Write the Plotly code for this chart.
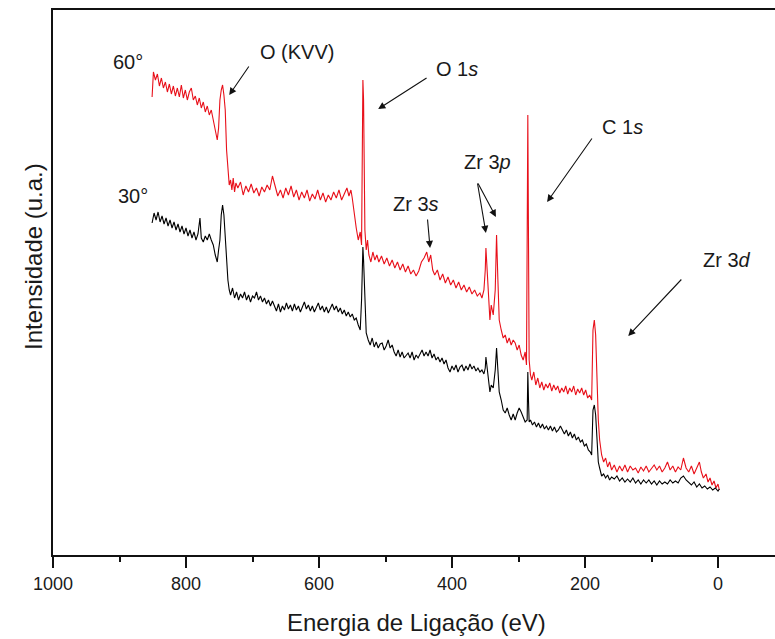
import plotly.graph_objects as go

# ---- 60 degree spectrum (red) ----
energy_60 = [851, 849, 846, 843, 840, 837, 834, 831, 828, 825, 822, 819, 816, 813, 810, 807, 804, 801, 798, 795,
             792, 789, 786, 783, 780, 777, 774, 771, 768, 765, 762, 759, 756, 753, 751, 749, 747, 745, 743, 741,
             739, 737, 735, 733, 731, 729, 727, 725, 722, 718, 714, 710, 706, 702, 698, 694, 690, 686, 682, 678,
             674, 670, 666, 662, 658, 654, 650, 646, 642, 638, 634, 630, 626, 622, 618, 614, 610, 606, 602, 598,
             594, 590, 586, 582, 578, 574, 570, 566, 562, 558, 555, 552, 550, 547, 544, 541, 538, 536, 534, 533,
             532, 531, 529, 527, 525, 522, 519, 516, 513, 510, 506, 502, 498, 494, 490, 486, 482, 478, 474, 470,
             466, 462, 458, 454, 450, 446, 442, 438, 435, 432, 429, 426, 422, 418, 414, 410, 406, 402, 398, 394,
             390, 386, 382, 378, 374, 370, 366, 362, 358, 355, 352, 350, 349, 347, 345, 343, 341, 338, 335, 333,
             331, 329, 326, 323, 320, 317, 314, 311, 308, 305, 302, 299, 296, 293, 290, 288, 286, 285, 284, 282,
             280, 277, 274, 271, 268, 265, 262, 259, 256, 253, 250, 247, 244, 241, 238, 235, 232, 229, 226, 223,
             220, 217, 214, 211, 208, 205, 202, 199, 196, 193, 190, 188, 186, 184, 182, 180, 178, 175, 172, 169,
             166, 163, 160, 156, 152, 148, 144, 140, 136, 132, 128, 124, 120, 116, 112, 108, 104, 100, 96, 92,
             88, 84, 80, 76, 72, 68, 64, 60, 56, 52, 48, 44, 40, 36, 32, 28, 25, 22, 18, 15,
             12, 9, 6, 3, 0, -2]
intensity_60 = [458, 483, 475, 481, 469, 477, 467, 473, 463, 471, 461, 469, 459, 467, 458, 470, 457, 465, 455, 463,
                467, 455, 459, 450, 457, 447, 453, 443, 449, 440, 445, 435, 425, 415, 427, 455, 465, 470, 460, 445,
                405, 385, 370, 375, 365, 377, 363, 372, 367, 373, 360, 369, 363, 371, 362, 367, 359, 368, 363, 370,
                365, 379, 370, 359, 365, 357, 367, 360, 369, 358, 365, 355, 363, 357, 365, 354, 361, 356, 365, 355,
                362, 353, 360, 355, 363, 357, 365, 355, 361, 367, 359, 365, 357, 340, 327, 315, 323, 310, 475, 455,
                405, 325, 305, 315, 300, 293, 303, 295, 300, 293, 299, 291, 297, 289, 295, 287, 293, 285, 291, 283,
                289, 281, 285, 279, 284, 293, 297, 303, 293, 300, 285, 280, 285, 275, 281, 272, 278, 270, 275, 267,
                273, 265, 270, 263, 268, 261, 265, 259, 262, 257, 265, 285, 307, 285, 255, 235, 250, 240, 265, 320,
                275, 235, 225, 217, 220, 212, 217, 210, 215, 212, 205, 210, 200, 195, 203, 190, 440, 355, 195, 180,
                175, 183, 170, 177, 167, 173, 165, 171, 167, 172, 164, 170, 165, 169, 162, 167, 163, 169, 161, 167,
                163, 169, 160, 166, 162, 167, 160, 165, 157, 160, 155, 225, 235, 220, 175, 135, 115, 100, 93, 97,
                88, 93, 85, 90, 83, 89, 84, 90, 83, 89, 85, 87, 82, 88, 84, 89, 83, 87, 90, 85,
                89, 83, 87, 93, 85, 89, 83, 88, 85, 97, 87, 83, 89, 81, 87, 93, 83, 77, 81, 73,
                77, 70, 74, 67, 71, 65]

# ---- 30 degree spectrum (black) ----
energy_30 = [851, 848, 845, 842, 839, 836, 833, 830, 827, 824, 821, 818, 815, 812, 809, 806, 803, 800, 797, 794,
             791, 788, 785, 782, 779, 777, 774, 771, 768, 765, 762, 759, 756, 753, 751, 749, 747, 745, 743, 741,
             739, 737, 735, 733, 730, 727, 724, 721, 718, 715, 712, 709, 706, 703, 700, 697, 694, 691, 688, 685,
             682, 679, 676, 673, 670, 667, 664, 661, 658, 655, 652, 649, 646, 643, 640, 637, 634, 631, 628, 625,
             622, 619, 616, 613, 610, 607, 604, 601, 598, 595, 592, 589, 586, 583, 580, 577, 574, 571, 568, 565,
             562, 559, 556, 553, 550, 547, 544, 541, 538, 536, 534, 533, 531, 529, 526, 523, 520, 517, 514, 511,
             508, 505, 502, 499, 496, 493, 490, 487, 484, 481, 478, 475, 472, 469, 466, 463, 460, 457, 454, 451,
             448, 445, 442, 439, 436, 433, 430, 427, 424, 421, 418, 415, 412, 409, 406, 403, 400, 397, 394, 391,
             388, 385, 382, 379, 376, 373, 370, 367, 364, 361, 358, 355, 352, 350, 349, 347, 345, 343, 341, 338,
             335, 333, 331, 329, 326, 323, 320, 317, 314, 311, 308, 305, 302, 299, 296, 293, 290, 287, 286, 285,
             284, 282, 279, 276, 273, 270, 267, 264, 261, 258, 255, 252, 249, 246, 243, 240, 237, 234, 231, 228,
             225, 222, 219, 216, 213, 210, 207, 204, 201, 198, 195, 192, 190, 188, 186, 184, 182, 180, 178, 175,
             172, 169, 166, 163, 160, 156, 152, 148, 144, 140, 136, 132, 128, 124, 120, 116, 112, 108, 104, 100,
             96, 92, 88, 84, 80, 76, 72, 68, 64, 60, 56, 52, 48, 44, 40, 36, 32, 28, 24, 20,
             16, 12, 8, 4, 0, -2]
intensity_30 = [332, 342, 335, 343, 333, 339, 331, 337, 329, 335, 327, 333, 325, 331, 323, 329, 321, 327, 319, 325,
                317, 323, 315, 321, 337, 317, 313, 319, 315, 321, 315, 310, 300, 293, 305, 315, 340, 350, 340, 315,
                290, 275, 265, 260, 267, 257, 263, 255, 261, 257, 263, 255, 260, 253, 259, 257, 263, 255, 259, 253,
                257, 251, 255, 249, 254, 248, 244, 251, 243, 249, 245, 252, 246, 250, 244, 251, 245, 249, 243, 248,
                253, 246, 250, 244, 249, 243, 247, 252, 245, 249, 243, 248, 242, 246, 251, 245, 249, 243, 247, 241,
                245, 239, 243, 238, 241, 235, 237, 230, 225, 255, 308, 295, 262, 222, 215, 210, 217, 208, 213, 207,
                211, 212, 205, 209, 215, 207, 210, 203, 199, 205, 198, 203, 197, 200, 202, 197, 203, 195, 200, 197,
                202, 205, 199, 203, 199, 205, 197, 201, 195, 198, 193, 197, 191, 195, 187, 183, 189, 185, 190, 183,
                188, 190, 184, 189, 185, 191, 186, 189, 184, 187, 183, 185, 181, 187, 198, 185, 170, 163, 170, 167,
                185, 207, 185, 163, 155, 145, 142, 147, 140, 135, 141, 135, 142, 147, 143, 138, 133, 135, 183, 155,
                133, 135, 130, 133, 128, 132, 127, 131, 126, 129, 125, 129, 124, 128, 123, 125, 129, 125, 121, 125,
                119, 123, 117, 121, 115, 118, 113, 115, 109, 111, 105, 103, 100, 145, 150, 140, 115, 93, 87, 79,
                81, 77, 80, 75, 78, 76, 79, 74, 77, 73, 76, 73, 77, 72, 75, 71, 75, 72, 75, 71,
                74, 70, 74, 71, 73, 71, 75, 72, 74, 72, 77, 79, 75, 72, 70, 73, 68, 71, 67, 69,
                66, 68, 65, 67, 64, 66]

x_tick_values = [1000, 800, 600, 400, 200, 0]
x_tick_labels = ["1000", "800", "600", "400", "200", "0"]

FONT = "Liberation Sans, Arial, sans-serif"
TXT = "#1a1a1a"

fig = go.Figure()
fig.add_trace(go.Scatter(x=energy_60, y=intensity_60, mode="lines",
                         line=dict(color="#e8101a", width=1.1), name="60°", showlegend=False))
fig.add_trace(go.Scatter(x=energy_30, y=intensity_30, mode="lines",
                         line=dict(color="#000000", width=1.1), name="30°", showlegend=False))

fig.update_layout(
    width=775, height=639,
    margin=dict(l=53, r=0, t=10, b=84),
    paper_bgcolor="white", plot_bgcolor="white",
    showlegend=False,
    font=dict(family=FONT, color=TXT),
)
fig.update_xaxes(
    range=[1000, -85.7], showgrid=False, zeroline=False,
    showline=True, linecolor="#111", linewidth=2, mirror=True,
    ticks="outside", ticklen=11, tickwidth=1.5, tickcolor="#111",
    tickvals=x_tick_values, ticktext=x_tick_labels,
    tickfont=dict(size=18, family=FONT, color=TXT),
    minor=dict(dtick=100, tick0=0, ticks="outside", ticklen=5, tickwidth=1.5, tickcolor="#111", showgrid=False),
)
fig.update_yaxes(
    range=[0, 545], showgrid=False, zeroline=False,
    showline=True, linecolor="#111", linewidth=2, mirror=False,
    ticks="", showticklabels=False,
)

ann = []
# axis titles
ann.append(dict(text="Energia de Ligação (eV)", xref="paper", yref="paper",
                x=(416 - 53) / 722, y=-(622 - 555) / 545, xanchor="center", yanchor="middle",
                showarrow=False, font=dict(size=24, family=FONT, color=TXT)))
ann.append(dict(text="Intensidade (u.a.)", xref="paper", yref="paper",
                x=-(53 - 33) / 722, y=(555 - 257) / 545, xanchor="center", yanchor="middle",
                textangle=-90, showarrow=False, font=dict(size=24, family=FONT, color=TXT)))

labels = [
    ("60°", 887, 493), ("30°", 880, 359), ("O (KVV)", 633, 503), ("O 1<i>s</i>", 392, 486),
    ("C 1<i>s</i>", 144, 428), ("Zr 3<i>p</i>", 346, 393), ("Zr 3<i>s</i>", 454, 351), ("Zr 3<i>d</i>", -13, 295),
]
for t, xv, yv in labels:
    ann.append(dict(text=t, x=xv, y=yv, xref="x", yref="y", showarrow=False,
                    font=dict(size=20, family=FONT, color=TXT)))

arrows = [
    (735, 460, 704, 490), (511, 446, 436, 478), (257, 353, 188, 418),
    (349, 322, 362, 373), (334, 338, 362, 373), (433, 307, 437, 337), (135, 219, 53, 277),
]
for x1, y1, x0, y0 in arrows:
    ann.append(dict(text="", x=x1, y=y1, ax=x0, ay=y0, xref="x", yref="y", axref="x", ayref="y",
                    showarrow=True, arrowhead=2, arrowsize=1.3, arrowwidth=1.1, arrowcolor="#111"))
fig.update_layout(annotations=ann)

fig.write_html("out.html")
